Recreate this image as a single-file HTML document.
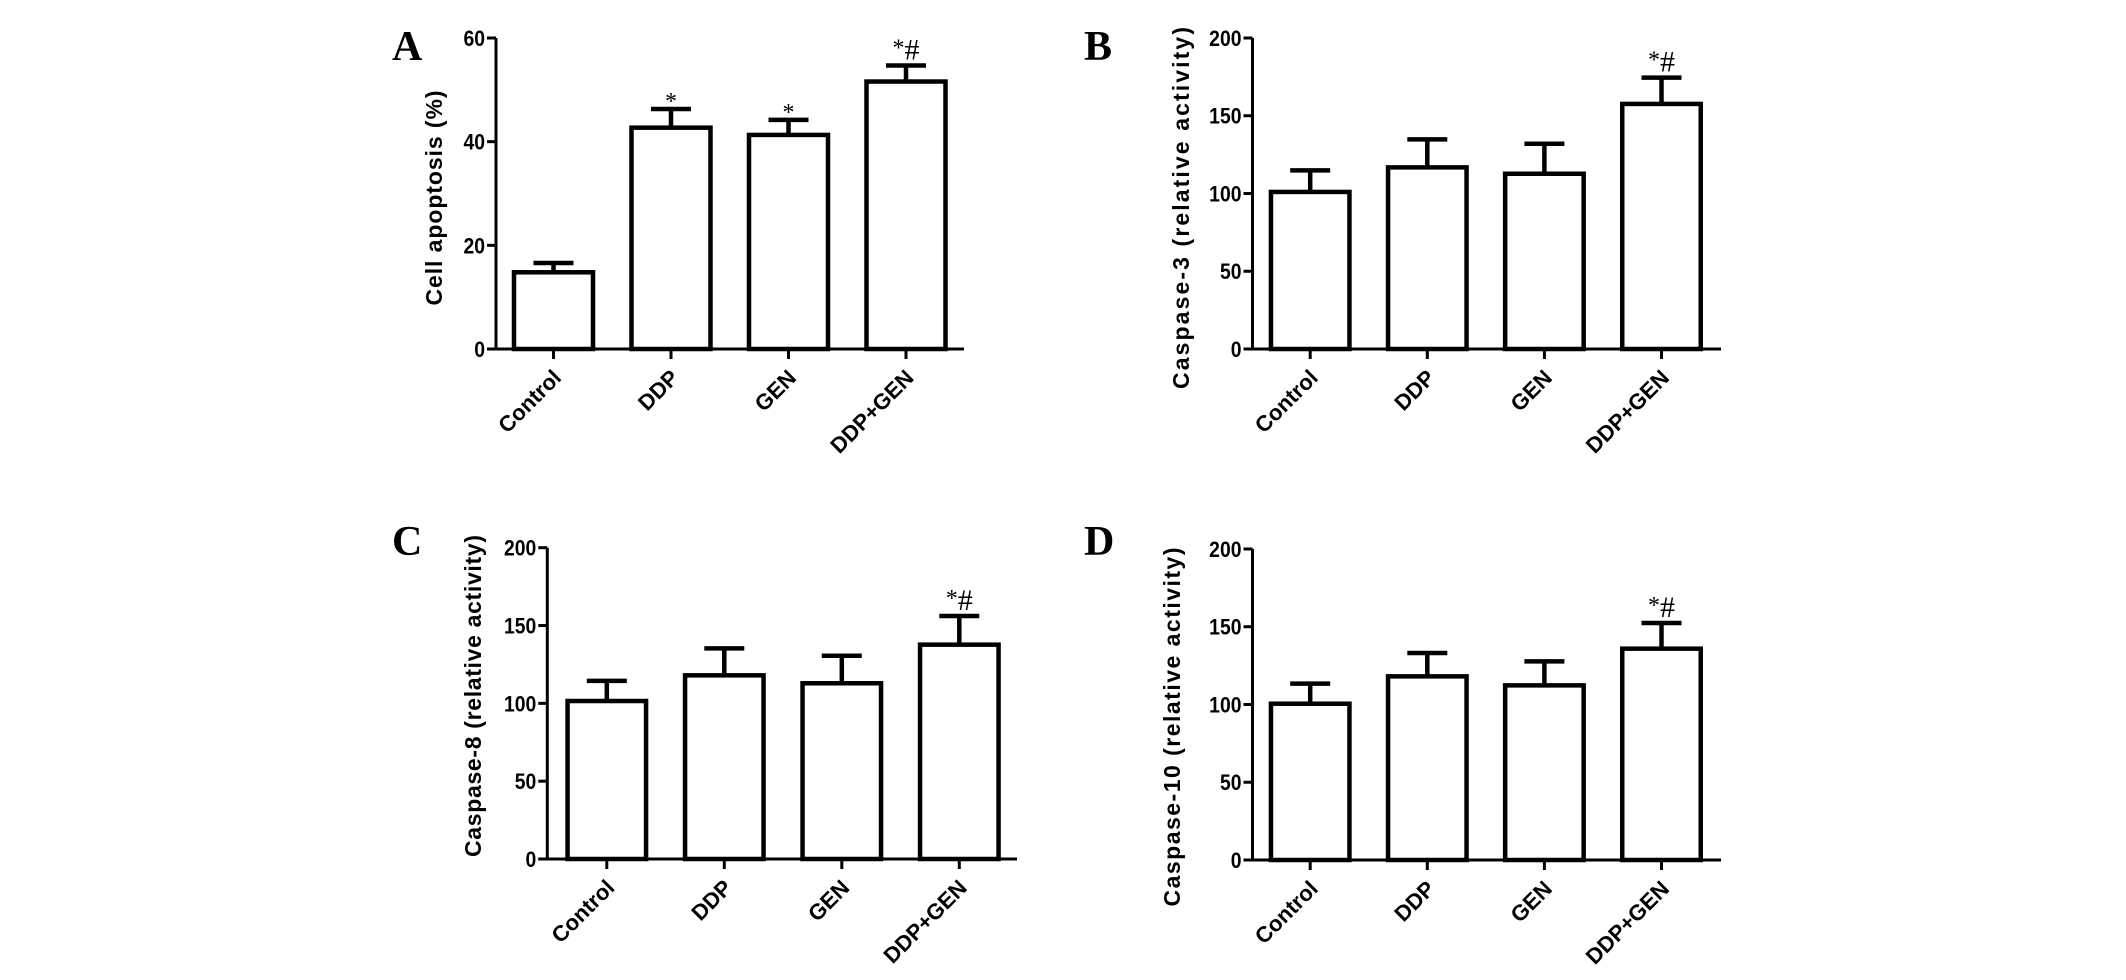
<!DOCTYPE html>
<html><head><meta charset="utf-8"><style>
html,body{margin:0;padding:0;background:#fff;}
svg{display:block;}
</style></head>
<body>
<svg id="fig" width="2126" height="980" viewBox="0 0 2126 980" xmlns="http://www.w3.org/2000/svg"></svg>
<script>
const categories = ["Control","DDP","GEN","DDP+GEN"];
const meansA = [14.8, 42.7, 41.3, 51.6];
const errA = [1.8, 3.6, 2.9, 3.1];
const marksA = ["", "*", "*", "*#"];
const ticksA = [0, 20, 40, 60];
const meansB = [101, 116.8, 112.7, 157.6];
const errB = [13.9, 18, 19.3, 16.9];
const marksB = ["", "", "", "*#"];
const ticksB = [0, 50, 100, 150, 200];
const meansC = [101.5, 118, 112.9, 137.7];
const errC = [12.9, 17.3, 17.7, 18.4];
const marksC = ["", "", "", "*#"];
const ticksC = [0, 50, 100, 150, 200];
const meansD = [100.5, 118.1, 112.3, 135.9];
const errD = [12.9, 15, 15.4, 16.5];
const marksD = ["", "", "", "*#"];
const ticksD = [0, 50, 100, 150, 200];

const NS = "http://www.w3.org/2000/svg";
const svg = document.getElementById("fig");
const SANS = "font-family:'Liberation Sans',Arial,sans-serif;";
const SERIF = "font-family:'Liberation Serif','Times New Roman',serif;";
function mk(tag, attrs, parent, txt){
  const e = document.createElementNS(NS, tag);
  for (const k in attrs) e.setAttribute(k, attrs[k]);
  if (txt !== undefined) e.textContent = txt;
  parent.appendChild(e);
  return e;
}

function panel(cfg){
  const g = mk("g", {}, svg);
  
  
  const ymax = cfg.ticks[cfg.ticks.length-1];
  const yScale = v => cfg.y0 - (v / ymax) * (cfg.y0 - cfg.yTop);
  const xScale = i => cfg.c0 + i * cfg.step;

  const letter = mk("text", {x: cfg.lx, y: cfg.ly, style: SERIF + "font-weight:bold;font-size:42px;"}, g, cfg.letter);
  
  

  const title = mk("text", {x: 0, y: 0, transform: `translate(${cfg.tx},${cfg.ty}) rotate(-90)`, "text-anchor": "middle", style: SANS + "font-weight:bold;font-size:23px;", textLength: cfg.tlen, lengthAdjust: "spacing"}, g, cfg.title);
  
  

  cfg.means.forEach((m, i) => {
    const cx = xScale(i);
    const bar = mk("rect", {x: cx - cfg.bw/2, y: yScale(m), width: cfg.bw, height: cfg.y0 - yScale(m), fill: "#fff", stroke: "#000", "stroke-width": 4.5}, g);
    
    
    const top = yScale(m + cfg.err[i]);
    const eb = mk("path", {d: `M${cx},${yScale(m)} V${top} M${cx-20},${top} H${cx+20}`, stroke: "#000", "stroke-width": 4.5, fill: "none"}, g);
    
    
    if (cfg.marks[i]) {
      const s = cfg.marks[i];
      const t = mk("text", {x: cx, y: top - 6, "text-anchor": "middle", style: SERIF + "font-size:" + (s === "*" ? 24 : 30) + "px;"}, g);
      
      
      if (s === "*#") {
        mk("tspan", {style: "font-size:24px;", dy: -4}, t, "*");
        mk("tspan", {style: "font-size:30px;", dy: 4}, t, "#");
      } else {
        mk("tspan", {dy: 6}, t, "*");
      }
    }
    const tk = mk("line", {x1: cx, y1: cfg.y0, x2: cx, y2: cfg.y0 + 10, stroke: "#000", "stroke-width": 3}, g);
    
    
    const lab = mk("text", {x: 0, y: 0, transform: `translate(${cx + 9},${cfg.y0 + 30}) rotate(-45)`, "text-anchor": "end", style: SANS + "font-weight:bold;font-size:22px;"}, g, categories[i]);
    
    
  });

  const ya = mk("line", {x1: cfg.ax, y1: cfg.yTop, x2: cfg.ax, y2: cfg.y0 + 1.5, stroke: "#000", "stroke-width": 3}, g);
  
  
  const xa = mk("line", {x1: cfg.ax - 9, y1: cfg.y0, x2: cfg.xEnd, y2: cfg.y0, stroke: "#000", "stroke-width": 3}, g);
  
  
  cfg.ticks.forEach(t => {
    const y = yScale(t);
    const tl = mk("line", {x1: cfg.ax - 9, y1: y, x2: cfg.ax, y2: y, stroke: "#000", "stroke-width": 3}, g);
    
    
    const lb = mk("text", {x: cfg.ax - 11, y: y + 8, "text-anchor": "end", style: SANS + "font-weight:bold;font-size:22px;", transform: `translate(${(cfg.ax-11)*0.12},0) scale(0.88,1)`}, g, String(t));
    
    
  });
}

panel({letter:"A", lx:392, ly:60, title:"Cell apoptosis (%)", tx:442, ty:198, tlen:215,
  ax:496, y0:349, yTop:38, xEnd:964, c0:553.5, step:117.5, bw:79,
  means:meansA, err:errA, marks:marksA, ticks:ticksA});
panel({letter:"B", lx:1084, ly:60, title:"Caspase-3 (relative activity)", tx:1189, ty:208, tlen:362,
  ax:1252.5, y0:349, yTop:38, xEnd:1721, c0:1310.2, step:117.1, bw:78.5,
  means:meansB, err:errB, marks:marksB, ticks:ticksB});
panel({letter:"C", lx:392, ly:555, title:"Caspase-8 (relative activity)", tx:481, ty:696, tlen:322,
  ax:547.3, y0:859, yTop:547.7, xEnd:1017, c0:606.8, step:117.5, bw:78.5,
  means:meansC, err:errC, marks:marksC, ticks:ticksC});
panel({letter:"D", lx:1084, ly:555, title:"Caspase-10 (relative activity)", tx:1180, ty:727, tlen:359,
  ax:1252.5, y0:860, yTop:549, xEnd:1721, c0:1310.2, step:117.1, bw:78.5,
  means:meansD, err:errD, marks:marksD, ticks:ticksD});
</script>
</body></html>
